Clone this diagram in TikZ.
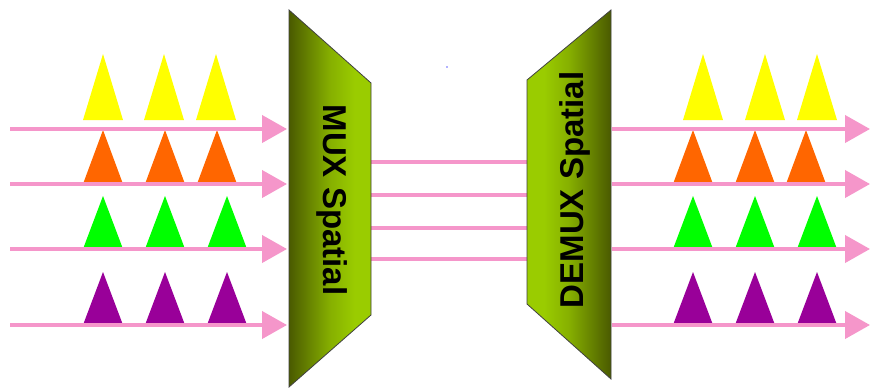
\documentclass[tikz,border=0pt]{standalone}
\usepackage{fontspec}
\setmainfont{Liberation Sans}
\usetikzlibrary{arrows.meta}
\definecolor{pinkline}{HTML}{F596CA}
\definecolor{olivedark}{HTML}{4A5A00}
\definecolor{olivebright}{HTML}{9ACC00}
\definecolor{tyellow}{HTML}{FFFF00}
\definecolor{torange}{HTML}{FF6600}
\definecolor{tgreen}{HTML}{00FF00}
\definecolor{tpurple}{HTML}{990099}
\pgfdeclarehorizontalshading{muxshade}{100bp}{
  color(0bp)=(olivedark); color(25bp)=(olivedark);
  color(50bp)=(olivebright!75!olivedark); color(65bp)=(olivebright); color(100bp)=(olivebright)}
\pgfdeclarehorizontalshading{demuxshade}{100bp}{
  color(0bp)=(olivebright); color(35bp)=(olivebright);
  color(50bp)=(olivebright!75!olivedark); color(75bp)=(olivedark); color(100bp)=(olivedark)}
\tikzset{
  signal/.style={pinkline, line width=4pt, -{Triangle[length=25pt,width=27pt]}},
  link/.style={pinkline, line width=4pt},
  boxedge/.style={draw=black!75, line width=0.8pt},
  lbl/.style={font=\fontsize{33}{33}\selectfont\bfseries, inner sep=0pt, anchor=base}
}
\newcommand{\tri}[4]{\fill[#1] (#2-20,#4) -- (#2,#3) -- (#2+20,#4) -- cycle;}
\begin{document}
\begin{tikzpicture}[x=1pt,y=-1pt]
\useasboundingbox (0,0) rectangle (870,389);
\fill[white] (0,0) rectangle (870,389);
% coordinates
\foreach \n/\y in {1/129,2/184,3/249,4/325}{
  \coordinate (li\n) at (10,\y);
  \coordinate (lo\n) at (287,\y);
  \coordinate (ri\n) at (612,\y);
  \coordinate (ro\n) at (870,\y);
}
\foreach \n/\y in {1/162,2/195,3/228,4/259}{
  \coordinate (mi\n) at (371,\y);
  \coordinate (mo\n) at (527,\y);
}
% triangles left
\foreach \x in {103,164,216}{\tri{tyellow}{\x}{54}{120}}
\foreach \x in {103,165,217}{\tri{torange}{\x}{130}{184}}
\foreach \x in {103,165,227}{\tri{tgreen}{\x}{196}{249}}
\foreach \x in {103,165,227}{\tri{tpurple}{\x}{272}{325}}
% triangles right
\foreach \x in {703,765,817}{\tri{tyellow}{\x}{54}{120}}
\foreach \x in {693,755,806}{\tri{torange}{\x}{130}{184}}
\foreach \x in {693,755,817}{\tri{tgreen}{\x}{196}{249}}
\foreach \x in {693,755,817}{\tri{tpurple}{\x}{272}{325}}
% signals
\foreach \n in {1,2,3,4}{
  \draw[signal] (li\n) -- (lo\n);
  \draw[signal] (ri\n) -- (ro\n);
  \draw[link] (mi\n) -- (mo\n);
}
% MUX
\shade[shading=muxshade] (289,10) -- (371,83) -- (371,315) -- (289,387) -- cycle;
\draw[boxedge] (289,10) -- (371,83) -- (371,315) -- (289,387) -- cycle;
\node[lbl, rotate=-90] (mux) at (323,200) {MUX Spatial};
% DEMUX
\shade[shading=demuxshade] (527,80) -- (611,10) -- (611,379) -- (527,304) -- cycle;
\draw[boxedge] (527,80) -- (611,10) -- (611,379) -- (527,304) -- cycle;
\node[lbl, rotate=90] (demux) at (583,190) {DEMUX Spatial};
% tiny dot
\fill[blue!60] (447,67) circle (0.8);
\end{tikzpicture}
\end{document}
